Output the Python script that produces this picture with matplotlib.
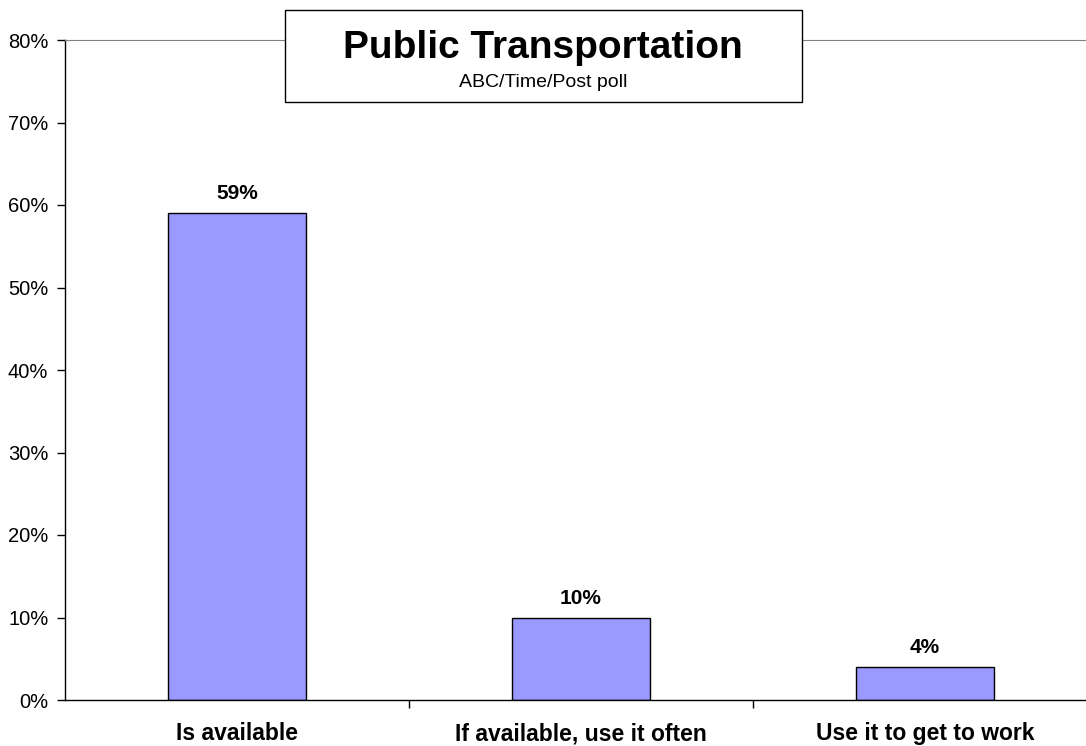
import matplotlib
matplotlib.use('Agg')
import matplotlib.pyplot as plt
from matplotlib.patches import Rectangle
from matplotlib.ticker import PercentFormatter

plt.rcParams['font.family'] = ['Liberation Sans', 'DejaVu Sans']

# data
categories = ['Is available', 'If available, use it often', 'Use it to get to work']
values = [59, 10, 4]
yticks = [0, 10, 20, 30, 40, 50, 60, 70, 80]

W, H = 1086, 746
fig = plt.figure(figsize=(W / 100, H / 100), dpi=100)
# plot area runs a little past the right edge of the figure
ax = fig.add_axes([65 / W, 46 / H, 1032 / W, 660 / H])

x = range(len(categories))
ax.bar(x, values, width=0.4, color='#9999FF', edgecolor='black', linewidth=1)

for xi, v in zip(x, values):
    ax.text(xi, v + 1.2, f'{v}%', ha='center', va='bottom',
            fontsize=15, fontweight='bold')

ax.set_xlim(-0.5, 2.5)
ax.set_ylim(0, 80)
ax.set_yticks(yticks)
ax.yaxis.set_major_formatter(PercentFormatter(decimals=0))
ax.tick_params(axis='y', labelsize=14.5, length=6, width=1, pad=6)

# category ticks sit between the bars
ax.set_xticks([0.5, 1.5])
ax.set_xticklabels([])
ax.tick_params(axis='x', length=6, width=1, direction='out')
for xi, c in zip(x, categories):
    ax.text(xi, -4.1, c, ha='center', va='center', fontsize=16.5, fontweight='bold',
            transform=ax.transData, clip_on=False)

ax.spines['right'].set_visible(False)
ax.spines['top'].set_color('#808080')
ax.spines['left'].set_linewidth(1)
ax.spines['bottom'].set_linewidth(1)

# title box
fig.patches.append(Rectangle((285 / W, 1 - 102 / H), 517 / W, 92 / H,
                             transform=fig.transFigure, facecolor='white',
                             edgecolor='black', linewidth=1, zorder=5))
fig.text(543 / W, 1 - 58 / H, 'Public Transportation', ha='center', va='baseline',
         fontsize=28, fontweight='bold', zorder=6)
fig.text(543 / W, 1 - 87 / H, 'ABC/Time/Post poll', ha='center', va='baseline',
         fontsize=14, zorder=6)

fig.savefig('out.png', dpi=100)
